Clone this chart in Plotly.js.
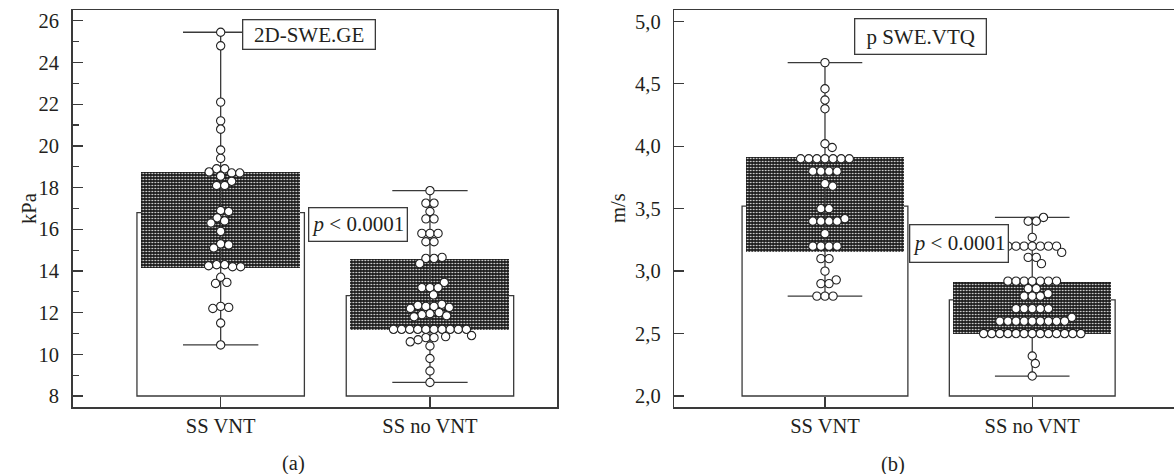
<!DOCTYPE html>
<html><head><meta charset="utf-8">
<script src="https://cdn.plot.ly/plotly-3.0.1.min.js"></script>
<style>html,body{margin:0;padding:0;background:#fff}#chart{width:1174px;height:474px}</style>
</head><body><div id="chart"></div>
<script>
// ---------- data ----------
const categories = ['SS VNT', 'SS no VNT'];

// (a) 2D-SWE.GE, kPa
const geVNT = [25.45, 24.8, 22.1, 21.2, 20.8, 19.8, 19.4, 18.9, 18.9, 18.75, 18.7, 18.7, 18.55, 18.3, 18.1, 18.1,
  16.9, 16.85, 16.55, 16.4, 16.3, 15.9, 15.3, 15.25, 15.1, 14.3, 14.3, 14.25, 14.2, 14.2,
  13.7, 13.45, 13.4, 12.3, 12.25, 12.2, 11.5, 10.45];
const geNoVNT = [17.85, 17.25, 17.25, 16.85, 16.5, 16.5, 15.8, 15.8, 15.8, 15.4, 15.4, 14.65, 14.6, 14.6, 14.35,
  13.45, 13.2, 13.2, 13.2, 12.85, 12.4, 12.35, 12.3, 12.3, 12.25, 12.2, 12.0, 11.95, 11.9, 11.85, 11.8,
  11.2, 11.2, 11.2, 11.2, 11.2, 11.2, 11.2, 11.2, 11.2, 11.2,
  10.9, 10.85, 10.8, 10.8, 10.7, 10.6, 10.4, 9.8, 9.2, 8.65];
const geMean = [16.8, 12.82];
const geQ1 = [14.14, 11.18];
const geQ3 = [18.75, 14.55];
const geBase = 8;

// (b) p SWE.VTQ, m/s
const vtqVNT = [4.67, 4.46, 4.37, 4.30, 4.02, 3.99, 3.9, 3.9, 3.9, 3.9, 3.9, 3.9, 3.9,
  3.8, 3.8, 3.8, 3.8, 3.70, 3.68, 3.5, 3.5, 3.42, 3.4, 3.4, 3.4, 3.4, 3.30,
  3.2, 3.2, 3.2, 3.2, 3.1, 3.1, 3.0, 2.93, 2.9, 2.9, 2.8, 2.8, 2.8];
const vtqNoVNT = [3.43, 3.40, 3.40, 3.27, 3.2, 3.2, 3.2, 3.2, 3.2, 3.2, 3.2, 3.15, 3.11, 3.11, 3.06,
  2.92, 2.92, 2.92, 2.92, 2.92, 2.92, 2.92, 2.86, 2.86, 2.82, 2.8, 2.8, 2.8,
  2.7, 2.7, 2.7, 2.7, 2.7, 2.63, 2.6, 2.6, 2.6, 2.6, 2.6, 2.6, 2.6, 2.6, 2.6,
  2.5, 2.5, 2.5, 2.5, 2.5, 2.5, 2.5, 2.5, 2.5, 2.5, 2.5, 2.5, 2.5,
  2.32, 2.26, 2.16];
const vtqMean = [3.52, 2.77];
const vtqQ1 = [3.15, 2.50];
const vtqQ3 = [3.91, 2.91];
const vtqBase = 2;

const panelLabels = ['(a)', '(b)'];
const boxLabels = ['2D-SWE.GE', 'p SWE.VTQ'];
const pLabel = '<i>p</i> &lt; 0.0001';
const yTitles = ['kPa', 'm/s'];

// ---------- geometry / style ----------
const W = 1174, H = 474;
const M = {l: 0, r: 0, t: 9.5, b: 67.3};
const plotH = H - M.t - M.b;
const serif = 'Liberation Serif, Times New Roman, serif';
const ink = '#231f20';
const lineC = '#3a3a3a';
const px = x => x / W;
const py = y => (H - M.b - y) / plotH;

const axes = {
  a: {dom: [72.7 / W, 557 / W], xr: [-0.707, 1.607], yr: [7.473, 26.518]},
  b: {dom: [674.3 / W, 1], xr: [-0.727, 1.684], yr: [1.912, 5.091]}
};
function scales(a) {
  return {
    pxX: (a.dom[1] - a.dom[0]) * W / (a.xr[1] - a.xr[0]),
    pxY: plotH / (a.yr[1] - a.yr[0])
  };
}

// beeswarm: identical values form symmetric rows; larger rows placed first,
// each row shifted as little as possible to avoid overlap
function swarm(vals, cx, s, d) {
  const out = new Array(vals.length);
  const cnt = new Map();
  vals.forEach(v => cnt.set(v, (cnt.get(v) || 0) + 1));
  const uniq = [...cnt.keys()].sort((a, b) => (cnt.get(b) - cnt.get(a)) || (b - a));
  const placed = [];
  for (const v of uniq) {
    const idx = vals.map((w, i) => w === v ? i : -1).filter(i => i >= 0);
    const n = idx.length;
    const base = k => (k - (n - 1) / 2) * d;
    const y = v * s.pxY;
    const cands = [0];
    for (const p of placed) {
      const dy = Math.abs(p.y - y);
      if (dy < d) {
        const dx = Math.sqrt(d * d - dy * dy) + 0.01;
        for (let k = 0; k < n; k++) cands.push(p.ox + dx - base(k), p.ox - dx - base(k));
      }
    }
    cands.sort((a, b) => Math.abs(a) - Math.abs(b) || b - a);
    let best = 0;
    for (const c of cands) {
      let ok = true;
      for (let k = 0; k < n && ok; k++) {
        const ox = c + base(k);
        for (const p of placed) {
          if ((p.ox - ox) ** 2 + (p.y - y) ** 2 < d * d - 0.05) { ok = false; break; }
        }
      }
      if (ok) { best = c; break; }
    }
    idx.forEach((i, k) => {
      const ox = best + base(k);
      placed.push({ox, y});
      out[i] = cx + ox / s.pxX;
    });
  }
  return out;
}

const traces = [];
function panel(groups, mean, q1, q3, baseVal, ax, xa, ya) {
  const s = scales(ax);
  traces.push({type: 'bar', x: [0, 1], y: mean.map(m => m - baseVal), base: [baseVal, baseVal],
    width: 0.8, xaxis: xa, yaxis: ya, hoverinfo: 'skip',
    marker: {color: '#ffffff', line: {color: lineC, width: 1.3}}});
  traces.push({type: 'bar', x: [0, 1], y: q3.map((v, i) => v - q1[i]), base: q1,
    width: 0.76, xaxis: xa, yaxis: ya, hoverinfo: 'skip',
    marker: {color: '#1e1e1e', line: {width: 0},
      pattern: {shape: '.', fgcolor: '#ffffff', bgcolor: '#1e1e1e', size: 3, solidity: 0.22}}});
  const cap = 0.18;
  groups.forEach((g, i) => {
    const lo = Math.min(...g), hi = Math.max(...g);
    traces.push({type: 'scatter', mode: 'lines', xaxis: xa, yaxis: ya, hoverinfo: 'skip',
      x: [i - cap, i + cap, null, i, i, null, i - cap, i + cap],
      y: [hi, hi, null, lo, hi, null, lo, lo],
      line: {color: lineC, width: 1.3}});
  });
  groups.forEach((g, i) => {
    traces.push({type: 'scatter', mode: 'markers', xaxis: xa, yaxis: ya,
      x: swarm(g, i, s, 8.1), y: g,
      marker: {size: 8.3, color: '#ffffff', line: {color: '#222', width: 1.1}}});
  });
}
panel([geVNT, geNoVNT], geMean, geQ1, geQ3, geBase, axes.a, 'x', 'y');
panel([vtqVNT, vtqNoVNT], vtqMean, vtqQ1, vtqQ3, vtqBase, axes.b, 'x2', 'y2');

const tickFont = {family: serif, size: 20.5, color: ink};
function xAxis(a, anchor) {
  return {domain: a.dom, range: a.xr, anchor, tickvals: [0, 1], ticktext: categories,
    ticks: 'inside', ticklen: 10, tickwidth: 1.3, tickcolor: lineC, ticklabelstandoff: 0,
    showline: true, linecolor: lineC, linewidth: 1.5, mirror: true,
    showgrid: false, zeroline: false, tickfont: tickFont, fixedrange: true};
}
function yAxis(a, anchor, dtick, fmt, minor, mirror) {
  const o = {domain: [0, 1], range: a.yr, anchor, tickmode: 'linear', tick0: 0, dtick, tickformat: fmt,
    ticks: 'inside', ticklen: 10, tickwidth: 1.3, tickcolor: lineC, ticklabelstandoff: 8,
    showline: true, linecolor: lineC, linewidth: 1.5, mirror,
    showgrid: false, zeroline: false, tickfont: tickFont, fixedrange: true};
  if (minor) o.minor = {dtick: minor, ticks: 'inside', ticklen: 6, tickwidth: 1.2, tickcolor: lineC, showgrid: false};
  return o;
}

const annFont = {family: serif, size: 21, color: ink};
function boxAnn(text, cxp, cyp, w, h) {
  return {text, xref: 'paper', yref: 'paper', x: px(cxp), y: py(cyp), xanchor: 'center', yanchor: 'middle',
    showarrow: false, font: annFont, bgcolor: '#ffffff', bordercolor: lineC, borderwidth: 1.3,
    borderpad: 0, width: w - 1.3, height: h - 1.3};
}
function txtAnn(text, cxp, cyp, angle) {
  return {text, xref: 'paper', yref: 'paper', x: px(cxp), y: py(cyp), xanchor: 'center', yanchor: 'middle',
    showarrow: false, font: {family: serif, size: 20.5, color: ink}, textangle: angle || 0};
}

const layout = {
  width: W, height: H, margin: M, paper_bgcolor: '#ffffff', plot_bgcolor: 'rgba(0,0,0,0)',
  showlegend: false, barmode: 'overlay', separators: ',.', bargap: 0,
  xaxis: xAxis(axes.a, 'y'), yaxis: yAxis(axes.a, 'x', 2, 'd', 1, true),
  xaxis2: xAxis(axes.b, 'y2'), yaxis2: yAxis(axes.b, 'x2', 0.5, '.1f', null, false),
  annotations: [
    boxAnn(boxLabels[0], 309.2, 34, 133, 30),
    boxAnn(boxLabels[1], 920, 36.2, 132, 35.7),
    boxAnn(pLabel, 357.5, 224.3, 98.4, 33.3),
    boxAnn(pLabel, 958.8, 243, 99, 37.4),
    txtAnn(yTitles[0], 29, 207.5, -90),
    txtAnn(yTitles[1], 618, 207.5, -90),
    txtAnn(panelLabels[0], 294, 463),
    txtAnn(panelLabels[1], 893, 464)
  ]
};

Plotly.newPlot('chart', traces, layout, {displayModeBar: false, staticPlot: true});
</script></body></html>
